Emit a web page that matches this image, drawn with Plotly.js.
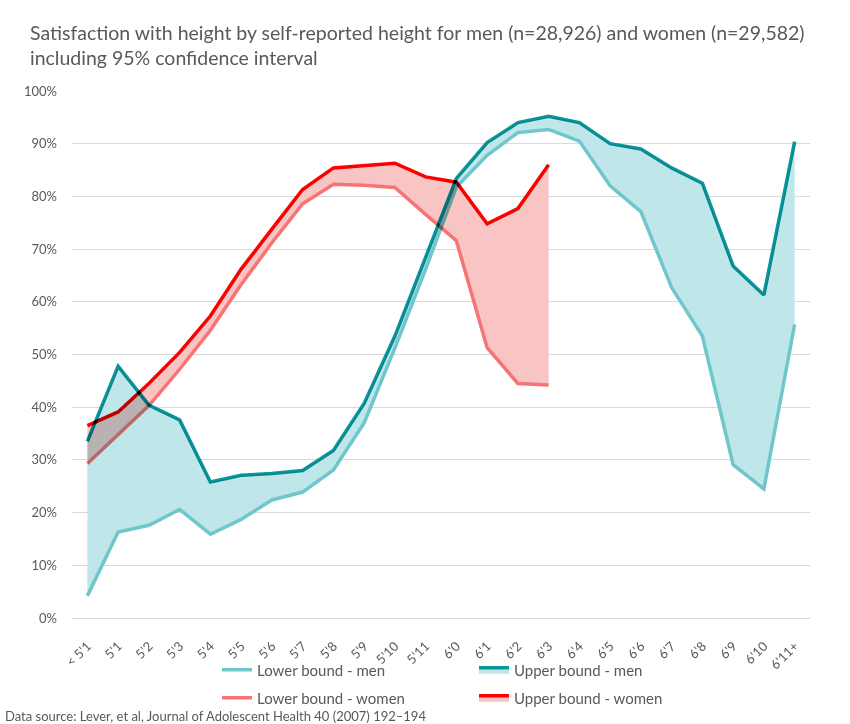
<!DOCTYPE html>
<html>
<head>
<meta charset="utf-8">
<script src="https://cdn.plot.ly/plotly-3.0.1.min.js"></script>
<style>
  html, body { margin: 0; padding: 0; background: #fff; }
  #chart { width: 850px; height: 724px; }
  .scatterlayer .trace { mix-blend-mode: multiply; }
</style>
</head>
<body>
<div id="chart"></div>
<script>
const heights = ["< 5'1", "5'1", "5'2", "5'3", "5'4", "5'5", "5'6", "5'7", "5'8", "5'9", "5'10", "5'11",
                 "6'0", "6'1", "6'2", "6'3", "6'4", "6'5", "6'6", "6'7", "6'8", "6'9", "6'10", "6'11+"];
const menLower = [4.2, 16.3, 17.6, 20.6, 15.9, 18.7, 22.4, 23.9, 28.1, 37.0, 51.2, 66.2,
                  81.8, 87.8, 92.1, 92.7, 90.5, 82.0, 77.1, 62.7, 53.5, 29.1, 24.5, 55.7];
const menUpper = [33.5, 47.8, 40.4, 37.6, 25.8, 27.1, 27.4, 28.0, 31.8, 40.7, 53.5, 68.5,
                  83.4, 90.2, 94.0, 95.2, 94.0, 90.0, 89.0, 85.4, 82.5, 66.8, 61.3, 90.4];
const womenHeights = heights.slice(0, 16);
const womenLower = [29.3, 34.8, 40.3, 47.2, 54.6, 63.3, 71.2, 78.6, 82.3, 82.1, 81.7, 76.6,
                    71.6, 51.3, 44.5, 44.2];
const womenUpper = [36.5, 39.1, 44.5, 50.4, 57.3, 66.2, 73.8, 81.3, 85.4, 85.9, 86.3, 83.7,
                    82.7, 74.8, 77.7, 86.0];
const yTicks = [0, 10, 20, 30, 40, 50, 60, 70, 80, 90, 100];
const yTickText = ["0%", "10%", "20%", "30%", "40%", "50%", "60%", "70%", "80%", "90%", "100%"];

const FONT = "Lato, 'Liberation Sans', sans-serif";
const GREY = "#595959";

const traces = [
  { x: heights, y: menLower, name: "Lower bound - men", type: "scatter", mode: "lines",
    line: { color: "#6fc7cc", width: 3.5 }, legend: "legend", hoverinfo: "skip" },
  { x: heights, y: menUpper, name: "Upper bound - men", type: "scatter", mode: "lines",
    fill: "tonexty", fillcolor: "#bfe6e9",
    line: { color: "#08979c", width: 3.5 }, legend: "legend", hoverinfo: "skip" },
  { x: womenHeights, y: womenLower, name: "Lower bound - women", type: "scatter", mode: "lines",
    line: { color: "#f87474", width: 3.5 }, legend: "legend2", hoverinfo: "skip" },
  { x: womenHeights, y: womenUpper, name: "Upper bound - women", type: "scatter", mode: "lines",
    fill: "tonexty", fillcolor: "#f9c4c4",
    line: { color: "#ff0000", width: 3.5 }, legend: "legend2", hoverinfo: "skip" }
];

const legendCommon = {
  orientation: "h", xref: "container", yref: "container", xanchor: "left", yanchor: "middle",
  entrywidth: 212, entrywidthmode: "pixels", bgcolor: "rgba(0,0,0,0)",
  font: { family: FONT, size: 15, color: GREY }, traceorder: "normal"
};

const layout = {
  width: 850, height: 724,
  paper_bgcolor: "#ffffff", plot_bgcolor: "#ffffff",
  margin: { l: 72, r: 40, t: 91, b: 106 },
  font: { family: FONT, color: GREY },
  title: {
    text: "Satisfaction with height by self-reported height for men (n=28,926) and women (n=29,582)<br>including 95% confidence interval",
    x: 30 / 850, xanchor: "left", xref: "container",
    y: 1 - 40 / 724, yanchor: "top", yref: "container",
    font: { family: FONT, size: 19.5, color: GREY }
  },
  xaxis: {
    type: "category", categoryorder: "array", categoryarray: heights,
    range: [-0.5, heights.length - 0.5],
    tickangle: -45, tickfont: { family: FONT, size: 13, color: GREY },
    showgrid: false, zeroline: false, showline: false, ticks: "",
    ticklabelstandoff: 17, fixedrange: true
  },
  yaxis: {
    range: [0, 100], tickmode: "array", tickvals: yTicks, ticktext: yTickText,
    tickfont: { family: FONT, size: 13, color: GREY },
    showgrid: true, gridcolor: "#d9d9d9", gridwidth: 1,
    zeroline: true, zerolinecolor: "#d9d9d9", zerolinewidth: 1,
    showline: false, ticks: "", ticklabelstandoff: 14, fixedrange: true
  },
  showlegend: true,
  legend: Object.assign({}, legendCommon, { x: 217 / 850, y: 1 - 670 / 724 }),
  legend2: Object.assign({}, legendCommon, { x: 217 / 850, y: 1 - 698 / 724 }),
  annotations: [{
    text: "Data source: Lever, et al, Journal of Adolescent Health 40 (2007) 192–194",
    xref: "paper", yref: "paper", x: -69 / 738, y: -(716 - 618) / 527,
    xanchor: "left", yanchor: "middle", showarrow: false,
    font: { family: FONT, size: 13, color: GREY }
  }]
};

Plotly.newPlot("chart", traces, layout, { displayModeBar: false, staticPlot: true });
</script>
</body>
</html>
